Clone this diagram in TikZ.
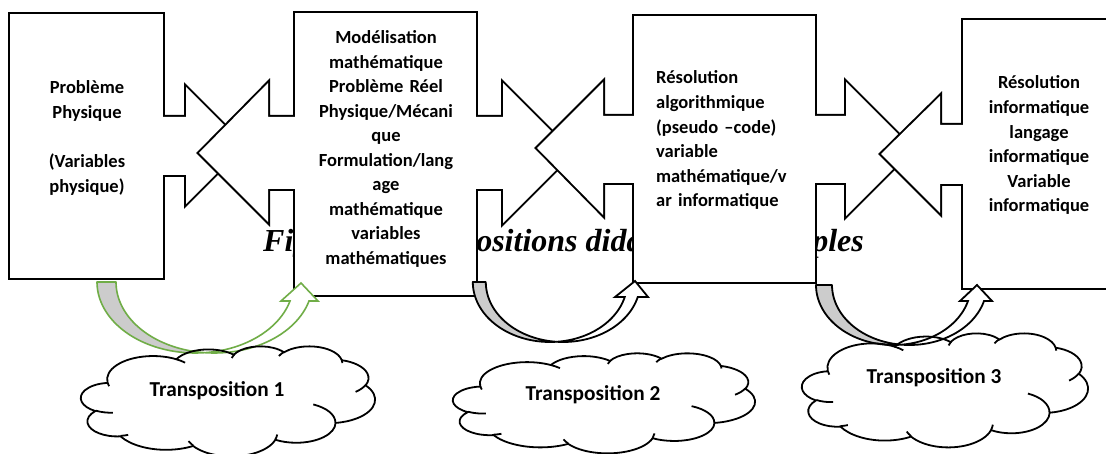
\documentclass[tikz,border=0pt]{standalone}
\usepackage{fontspec}
\setmainfont{Carlito}
\newfontfamily\capfont{Liberation Serif}
\definecolor{wgreen}{RGB}{112,173,71}
\definecolor{wgray}{RGB}{204,204,204}
% DrawingML-style arcTo (visual angles)
\newcommand\carc[4]{\pgfextra{%
  \pgfmathparse{atan2((#1)*sin(#3),(#2)*cos(#3))}\xdef\cA{\pgfmathresult}%
  \pgfmathparse{atan2((#1)*sin((#3)+(#4)),(#2)*cos((#3)+(#4)))}\xdef\cB{\pgfmathresult}%
  \pgfmathparse{\cB-(\cA)}\xdef\cD{\pgfmathresult}%
  \pgfmathparse{\cD+360*((#4)>0)*(\cD<0)-360*((#4)<0)*(\cD>0)}\xdef\cD{\pgfmathresult}%
  } arc[start angle=\cA, delta angle=\cD, x radius=#1, y radius=#2]}
\newcommand\cloudouter{(39.00,143.70)
 \carc{67.53}{91.90}{-190.4875}{123.7805}
 \carc{53.33}{72.67}{-144.1024}{89.9452}
 \carc{43.65}{59.45}{-145.8079}{99.7230}
 \carc{48.57}{65.95}{-130.9861}{117.2417}
 \carc{53.33}{72.73}{-78.7089}{109.0269}
 \carc{67.75}{92.20}{-46.2673}{130.2690}
 \carc{57.85}{78.67}{0.6250}{114.0333}
 \carc{67.52}{92.15}{22.4516}{115.1726}
 \carc{77.20}{105.43}{66.2426}{75.7110}
 \carc{43.60}{59.18}{-274.9421}{146.7356}
 \carc{43.45}{59.45}{-246.8285}{152.5189} -- cycle}
\newcommand\cloudinner{(46.93,261.77) \carc{43.45}{59.45}{86.7420}{26.4295}
 (69.28,348.99) \carc{43.60}{59.18}{73.6105}{11.4475}
 (164.78,390.90) \carc{67.52}{92.15}{137.6242}{14.0811}
 (288.27,347.51) \carc{67.52}{92.15}{6.4533}{15.9984}
 (341.29,229.54) \carc{57.85}{78.67}{-70.2924}{70.9174}
 (417.98,153.54) \carc{53.33}{72.73}{30.3180}{27.7515}
 (383.24,54.26) \carc{48.57}{65.95}{-13.7443}{14.8589}
 (290.78,39.52) \carc{48.57}{65.95}{-149.1815}{18.1954}
 (221.41,47.20) \carc{43.65}{59.45}{-163.4943}{19.0050}
 (140.00,51.92) \carc{67.53}{91.90}{-66.7070}{12.3194}
 (41.27,157.89) \carc{67.53}{91.90}{157.6544}{11.8582}}
% boxes and right-pointing arrows (one outlined union)
\newcommand\baseparts[1]{%
 \path[#1] (10,14) rectangle (163,278);
 \path[#1] (295,13) rectangle (476,295);
 \path[#1] (634,16) rectangle (815,282);
 \path[#1] (963,20) rectangle (1130,288);
 \path[#1] (150,117) -- (186,117) -- (186,87) -- (244.5,145.5) -- (186,204) -- (186,175) -- (150,175) -- cycle;
 \path[#1] (460,117) -- (503,117) -- (503,83) -- (573,153) -- (503,223) -- (503,189) -- (460,189) -- cycle;
 \path[#1] (800,116) -- (846,116) -- (846,82) -- (913,149) -- (846,216) -- (846,183) -- (800,183) -- cycle;}
% left-pointing arrows, drawn in front
\newcommand\leftpart[2]{\path[draw, line width=4pt, line join=miter] #2; \path[fill=white] #2;}
\begin{document}
\begin{tikzpicture}[x=1pt,y=-1pt,
  boxtext/.style={font=\fontsize{18.5}{24.6}\selectfont\bfseries, inner sep=0pt, anchor=base, align=center},
  cloudtext/.style={font=\fontsize{21.3}{24}\selectfont\bfseries, inner sep=0pt},
  captext/.style={font=\capfont\bfseries\itshape\fontsize{32}{36}\selectfont, inner sep=0pt, anchor=base west},
  greenback/.style={draw=wgreen, fill=wgray, line width=1.6pt, line join=round},
  greenfront/.style={draw=wgreen, fill=white, line width=1.6pt, line join=miter},
  blackback/.style={draw=black, fill=wgray, line width=1.8pt, line join=round},
  blackfront/.style={draw=black, fill=white, line width=1.8pt, line join=miter},
  cloudline/.style={draw=black, line width=1.8pt}
]
\useasboundingbox (0,0) rectangle (1106,454);
\fill[white] (0,0) rectangle (1106,454);
% caption (partly hidden behind boxes)
\node[captext] (caption) at (263,252) {Figure : Transpositions didactiques multiples};
\baseparts{draw, line width=4pt, line join=miter}
\baseparts{fill=white}
\leftpart{1}{(310,117) -- (268,117) -- (268,83) -- (199,153) -- (268,222) -- (268,189) -- (310,189) -- cycle}
\leftpart{2}{(650,116) -- (603,116) -- (603,82) -- (537,148) -- (603,215) -- (603,183) -- (650,183) -- cycle}
\leftpart{3}{(980,125) -- (940,125) -- (940,96) -- (881,154) -- (940,213) -- (940,184) -- (980,184) -- cycle}
\fill[white] (295,13) rectangle (476,295);
\fill[white] (634,16) rectangle (815,282);
\fill[white] (963,20) rectangle (1130,288);
% box texts
\node[boxtext, text width=150pt] (t1) at (87,94) {Problème\\Physique\\\mbox{}\\(Variables\\physique)};
\node[boxtext, text width=175pt, font=\fontsize{18.5}{24.45}\selectfont\bfseries] (t2) at (386,44) {Modélisation\\mathématique\\Problème Réel\\Physique/Mécani\\que\\Formulation/lang\\age\\mathématique\\variables\\mathématiques};
\node[boxtext, text width=158pt, align=left, anchor=base west] (t3) at (656,84) {Résolution\\algorithmique\\(pseudo –code)\\variable\\mathématique/v\\ar informatique};
\node[boxtext, text width=140pt] (t4) at (1039,89) {Résolution\\informatique\\langage\\informatique\\Variable\\informatique};
% curved arrow 1 (green)
\path[greenback] plot[domain=180:84.46,samples=40] ({195.3+98.3*cos(\x)},{282+71*sin(\x)}) -- plot[domain=95.54:180,samples=40] ({214.3+98.3*cos(\x)},{282+71*sin(\x)}) -- cycle;
\path[greenfront] plot[domain=84.46:15.52,samples=40] ({195.3+98.3*cos(\x)},{282+71*sin(\x)}) -- (281,301) -- (301,283) -- (318,301) -- plot[domain=15.52:95.54,samples=40] ({214.3+98.3*cos(\x)},{282+71*sin(\x)}) -- cycle;
% curved arrow 2
\path[blackback] plot[domain=180:85.17,samples=40] ({550+77.2*cos(\x)},{282+60*sin(\x)}) -- plot[domain=94.83:180,samples=40] ({563+77.2*cos(\x)},{282+60*sin(\x)}) -- cycle;
\path[blackfront] plot[domain=85.17:14.48,samples=40] ({550+77.2*cos(\x)},{282+60*sin(\x)}) -- (615,297) -- (635,281) -- (648,297) -- plot[domain=14.48:94.83,samples=40] ({563+77.2*cos(\x)},{282+60*sin(\x)}) -- cycle;
% curved arrow 3
\path[blackback] plot[domain=180:84.07,samples=40] ({893.4+77.4*cos(\x)},{285+60*sin(\x)}) -- plot[domain=95.93:180,samples=40] ({909.4+77.4*cos(\x)},{285+60*sin(\x)}) -- cycle;
\path[blackfront] plot[domain=84.07:15.47,samples=40] ({893.4+77.4*cos(\x)},{285+60*sin(\x)}) -- (960,301) -- (977,285) -- (992,301) -- plot[domain=15.47:95.93,samples=40] ({909.4+77.4*cos(\x)},{285+60*sin(\x)}) -- cycle;
% clouds
\begin{scope}[shift={(81,346)}, x=0.68056pt, y=-0.25463pt]
 \path[cloudline] \cloudouter; \path[cloudline] \cloudinner;
\end{scope}
\begin{scope}[shift={(453,353)}, x=0.69907pt, y=-0.23148pt]
 \path[cloudline] \cloudouter; \path[cloudline] \cloudinner;
\end{scope}
\begin{scope}[shift={(802,333)}, x=0.66204pt, y=-0.26389pt]
 \path[cloudline] \cloudouter; \path[cloudline] \cloudinner;
\end{scope}
\node[cloudtext] (c1) at (217,391) {Transposition 1};
\node[cloudtext] (c2) at (593,395) {Transposition 2};
\node[cloudtext] (c3) at (934,378) {Transposition 3};
\end{tikzpicture}
\end{document}
